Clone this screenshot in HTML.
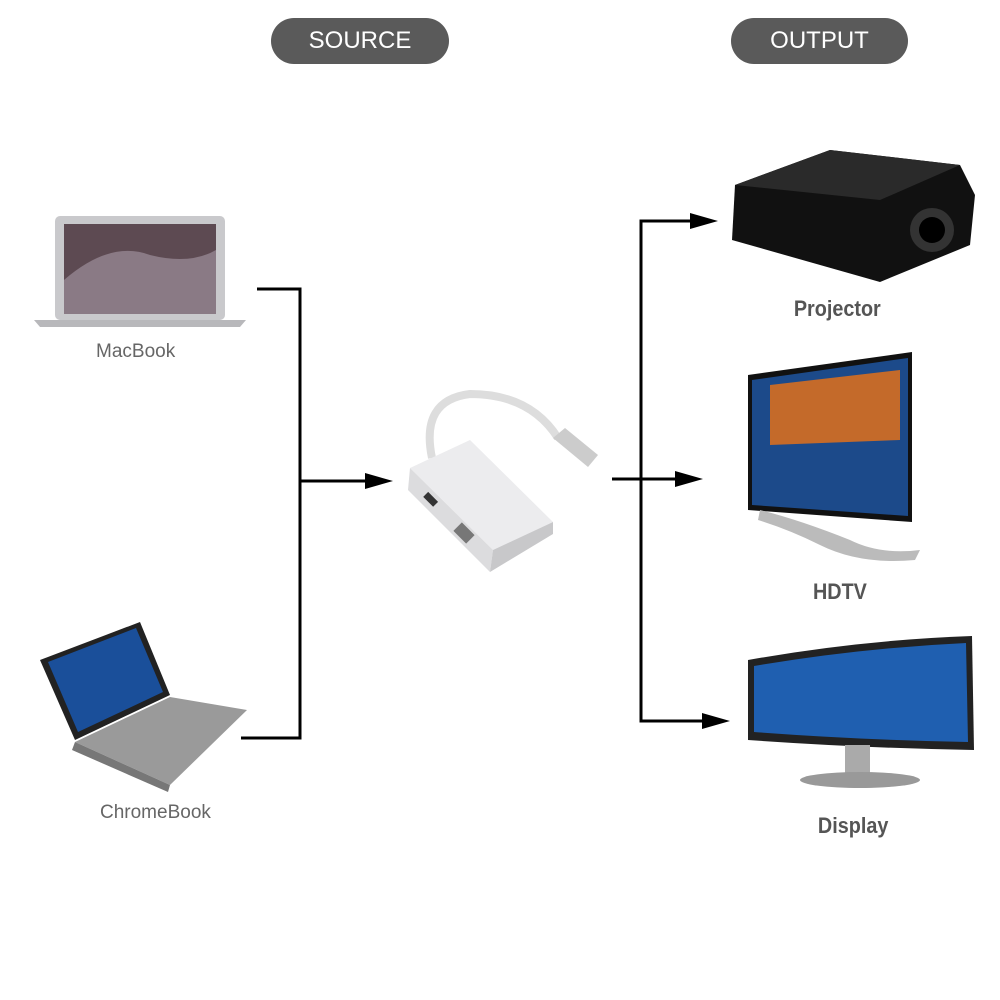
<!DOCTYPE html>
<html><head><meta charset="utf-8"><style>
body{margin:0;width:1000px;height:1000px;background:#fff;position:relative;overflow:hidden;font-family:"Liberation Sans",sans-serif}
.pill{position:absolute;background:#5a5a5a;color:#fff;border-radius:23px;font-size:24px;text-align:center;line-height:46px;height:46px;top:18px}
.lbl{position:absolute;color:#666;font-size:19px}
.out{position:absolute;color:#555;font-size:22px;font-weight:bold;transform:scaleX(0.9)}
</style></head><body>
<div class="pill" style="left:271px;width:178px">SOURCE</div>
<div class="pill" style="left:731px;width:177px">OUTPUT</div>
<svg width="1000" height="1000" style="position:absolute;left:0;top:0">
<g stroke="#000" stroke-width="3" fill="none">
<polyline points="257,289 300,289 300,738 241,738"/>
<line x1="300" y1="481" x2="380" y2="481"/>
<line x1="612" y1="479" x2="690" y2="479"/>
<polyline points="705,221 641,221 641,721 712,721"/>
</g>
<path d="M365,473 L393,481 L365,489z" fill="#000"/>
<path d="M675,471 L703,479 L675,487z" fill="#000"/>
<path d="M690,213 L718,221 L690,229z" fill="#000"/>
<path d="M702,713 L730,721 L702,729z" fill="#000"/>
<!-- MacBook -->
<rect x="55" y="216" width="170" height="104" rx="5" fill="#c9c9cc"/>
<rect x="64" y="224" width="152" height="90" fill="#5d4a52"/>
<path d="M64,280 Q110,240 150,255 Q190,265 216,250 L216,314 L64,314z" fill="#8a7a85"/>
<path d="M34,320 L246,320 L240,327 L40,327z" fill="#b8b8bb"/>
<!-- ChromeBook -->
<path d="M40,660 L140,622 L170,695 L75,740z" fill="#222"/>
<path d="M48,662 L136,628 L163,692 L78,732z" fill="#1a4f9a"/>
<path d="M75,742 L170,697 L247,710 L170,785z" fill="#9a9a9a"/>
<path d="M75,742 L170,785 L168,792 L72,750z" fill="#777"/>
<!-- adapter -->
<path d="M432,458 Q420,400 470,394 Q530,394 558,438" stroke="#ddd" stroke-width="8" fill="none"/>
<path d="M553,438 L565,428 L598,455 L588,467z" fill="#ccc"/>
<path d="M410,468 L470,440 L553,522 L493,550z" fill="#ececee"/>
<path d="M410,468 L493,550 L490,572 L408,490z" fill="#dcdcde"/>
<path d="M493,550 L553,522 L553,534 L490,572z" fill="#c8c8ca"/>
<rect x="424" y="496" width="14" height="7" fill="#333" transform="rotate(45 431 499)"/>
<rect x="455" y="527" width="18" height="12" fill="#777" transform="rotate(45 464 533)"/>
<!-- projector -->
<path d="M735,185 L830,150 L960,165 L975,195 L970,245 L880,282 L732,240z" fill="#111"/>
<path d="M735,185 L830,150 L960,165 L880,200z" fill="#2a2a2a"/>
<circle cx="932" cy="230" r="22" fill="#333"/><circle cx="932" cy="230" r="13" fill="#000"/>
<!-- TV -->
<path d="M748,375 L912,352 L912,522 L748,510z" fill="#111"/>
<path d="M752,380 L908,358 L908,516 L752,505z" fill="#1c4a8a"/>
<path d="M770,385 L900,370 L900,440 L770,445z" fill="#c46a2a"/>
<path d="M760,510 Q800,520 850,540 Q880,555 920,550 L915,560 Q860,565 820,545 Q790,530 758,520z" fill="#bbb"/>
<!-- Display -->
<path d="M748,660 Q860,640 972,636 L974,750 Q860,748 748,740z" fill="#222"/>
<path d="M754,666 Q860,648 966,643 L968,742 Q860,740 754,732z" fill="#1f5fb0"/>
<rect x="845" y="745" width="25" height="30" fill="#aaa"/>
<ellipse cx="860" cy="780" rx="60" ry="8" fill="#999"/>
</svg>
<div class="lbl" style="left:96px;top:341px">MacBook</div>
<div class="lbl" style="left:100px;top:802px">ChromeBook</div>
<div class="out" style="left:789px;top:296px">Projector</div>
<div class="out" style="left:810px;top:579px">HDTV</div>
<div class="out" style="left:814px;top:813px">Display</div>
</body></html>
